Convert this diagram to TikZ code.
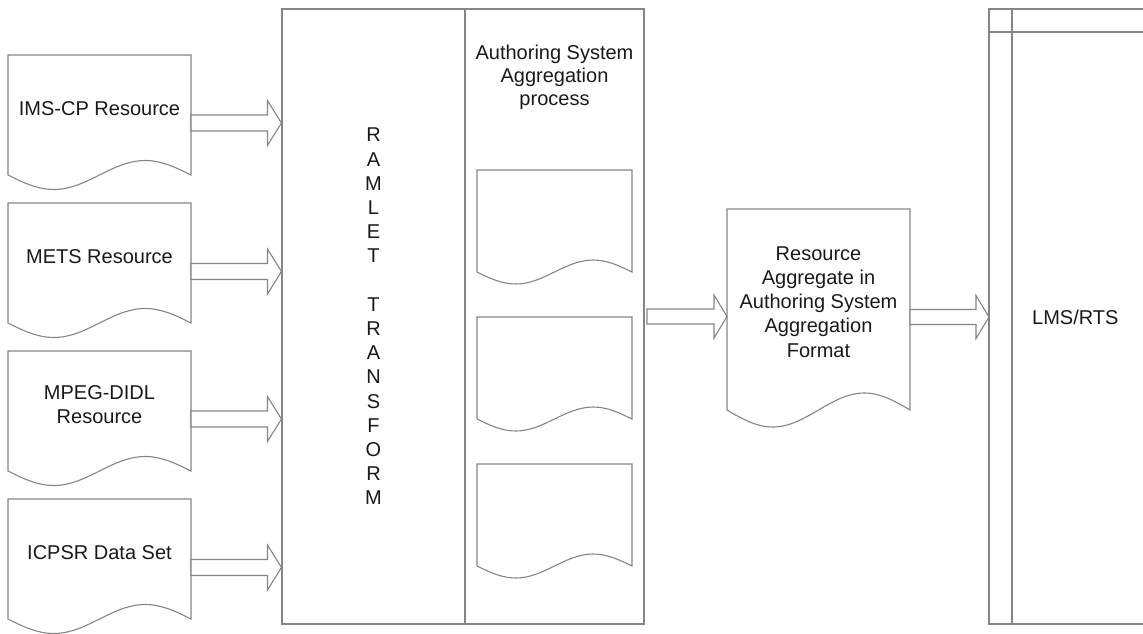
\documentclass[tikz,border=0pt]{standalone}
\usepackage{fontspec}
\setmainfont{Liberation Sans}
\usetikzlibrary{calc}

\definecolor{edge}{gray}{0.52}
\definecolor{ink}{gray}{0.1}

\tikzset{
  outline/.style={draw=edge, line width=1.1pt, line join=miter},
  txt/.style={font=\fontsize{20}{24.2}\selectfont, text=ink, align=center, inner sep=0pt},
  area/.style={inner sep=0pt, outer sep=0pt},
}

% document outline: rectangle with a wavy bottom edge
% #1 node, #2 wave amplitude
\newcommand\docoutline[2]{%
  \draw[outline] let \p1=(#1.south west), \p2=(#1.north east), \n1={(\x2-\x1)/4} in
    (\x1,\y1) -- (\x1,\y2) -- (\x2,\y2) -- (\x2,\y1)
    sin ({\x2-\n1*1pt},{\y1+#2}) cos ({\x2-2*\n1*1pt},\y1)
    sin ({\x2-3*\n1*1pt},{\y1-#2}) cos (\x1,\y1) -- cycle;}

% hollow block arrow from a tail point to the x position of a target
% #1 tail, #2 target, #3 shaft half width, #4 head half width, #5 head length
\newcommand\fatarrow[5]{%
  \draw[outline, fill=white] let \p1=(#1), \p2=(#2) in
    (\x1,{\y1+#3}) -- ({\x2-#5},{\y1+#3}) -- ({\x2-#5},{\y1+#4}) -- (\x2,\y1)
    -- ({\x2-#5},{\y1-#4}) -- ({\x2-#5},{\y1-#3}) -- (\x1,{\y1-#3}) -- cycle;}

\begin{document}
\begin{tikzpicture}[x=1pt, y=-1pt]
\useasboundingbox (0,0) rectangle (1143,633);

% source resources
\node[area, minimum width=183pt, minimum height=120pt] (ims)   at (99.5,115) {};
\node[area, minimum width=183pt, minimum height=120pt] (mets)  at (99.5,263) {};
\node[area, minimum width=183pt, minimum height=120pt] (mpeg)  at (99.5,411) {};
\node[area, minimum width=183pt, minimum height=120pt] (icpsr) at (99.5,559) {};
\foreach \d in {ims,mets,mpeg,icpsr} {\docoutline{\d}{14.5pt}}
\node[txt] (ims-t)   at ([yshift=6.5pt]ims.center)   {IMS-CP Resource};
\node[txt] (mets-t)  at ([yshift=6.5pt]mets.center)  {METS Resource};
\node[txt] (mpeg-t)  at ([yshift=6.5pt]mpeg.center)  {MPEG-DIDL\\Resource};
\node[txt] (icpsr-t) at ([yshift=6.5pt]icpsr.center) {ICPSR Data Set};

% transform and aggregation columns
\node[outline, txt, minimum width=183pt, minimum height=615pt] (trans) at (373.5,316.5)
  {R\\A\\M\\L\\E\\T\\\mbox{}\\T\\R\\A\\N\\S\\F\\O\\R\\M};
\node[outline, area, minimum width=179pt, minimum height=615pt] (asa) at (554.5,316.5) {};
\node[txt, font=\fontsize{20}{23}\selectfont] (asa-t) at (554.5,77)
  {Authoring System\\Aggregation\\process};

\node[area, minimum width=155pt, minimum height=102pt] (inner1) at (554.5,221) {};
\node[area, minimum width=155pt, minimum height=102pt] (inner2) at (554.5,368) {};
\node[area, minimum width=155pt, minimum height=102pt] (inner3) at (554.5,515) {};
\foreach \d in {inner1,inner2,inner3} {\docoutline{\d}{12pt}}

% aggregate document
\node[area, minimum width=183pt, minimum height=201pt] (agg) at (818.5,309.5) {};
\docoutline{agg}{17pt}
\node[txt] (agg-t) at ([yshift=7.5pt]agg.center)
  {Resource\\Aggregate in\\Authoring System\\Aggregation\\Format};

% LMS/RTS swimlane
\node[area, minimum width=154pt, minimum height=615pt] (lms) at (1066,316.5) {};
\draw[outline] (lms.north east) -- (lms.north west) -- (lms.south west) -- (lms.south east);
\draw[outline] ([xshift=23pt]lms.north west) -- ([xshift=23pt]lms.south west);
\draw[outline] ([yshift=-23pt]lms.north west) -- ([yshift=-23pt]lms.north east);
\node[txt, anchor=west] (lms-t) at (1032,317) {LMS/RTS};

% flows
\fatarrow{[yshift=-8pt]ims.east}{trans.west}{8pt}{22.5pt}{14pt}
\fatarrow{[yshift=-8.5pt]mets.east}{trans.west}{8pt}{22.5pt}{14pt}
\fatarrow{[yshift=-8pt]mpeg.east}{trans.west}{8pt}{22.5pt}{14pt}
\fatarrow{[yshift=-8.5pt]icpsr.east}{trans.west}{8pt}{22.5pt}{14pt}
\fatarrow{[xshift=3pt]asa.east}{agg.west}{7.5pt}{21.5pt}{13pt}
\fatarrow{[yshift=-7.5pt]agg.east}{lms.west}{7.5pt}{21.5pt}{13pt}
\end{tikzpicture}
\end{document}
